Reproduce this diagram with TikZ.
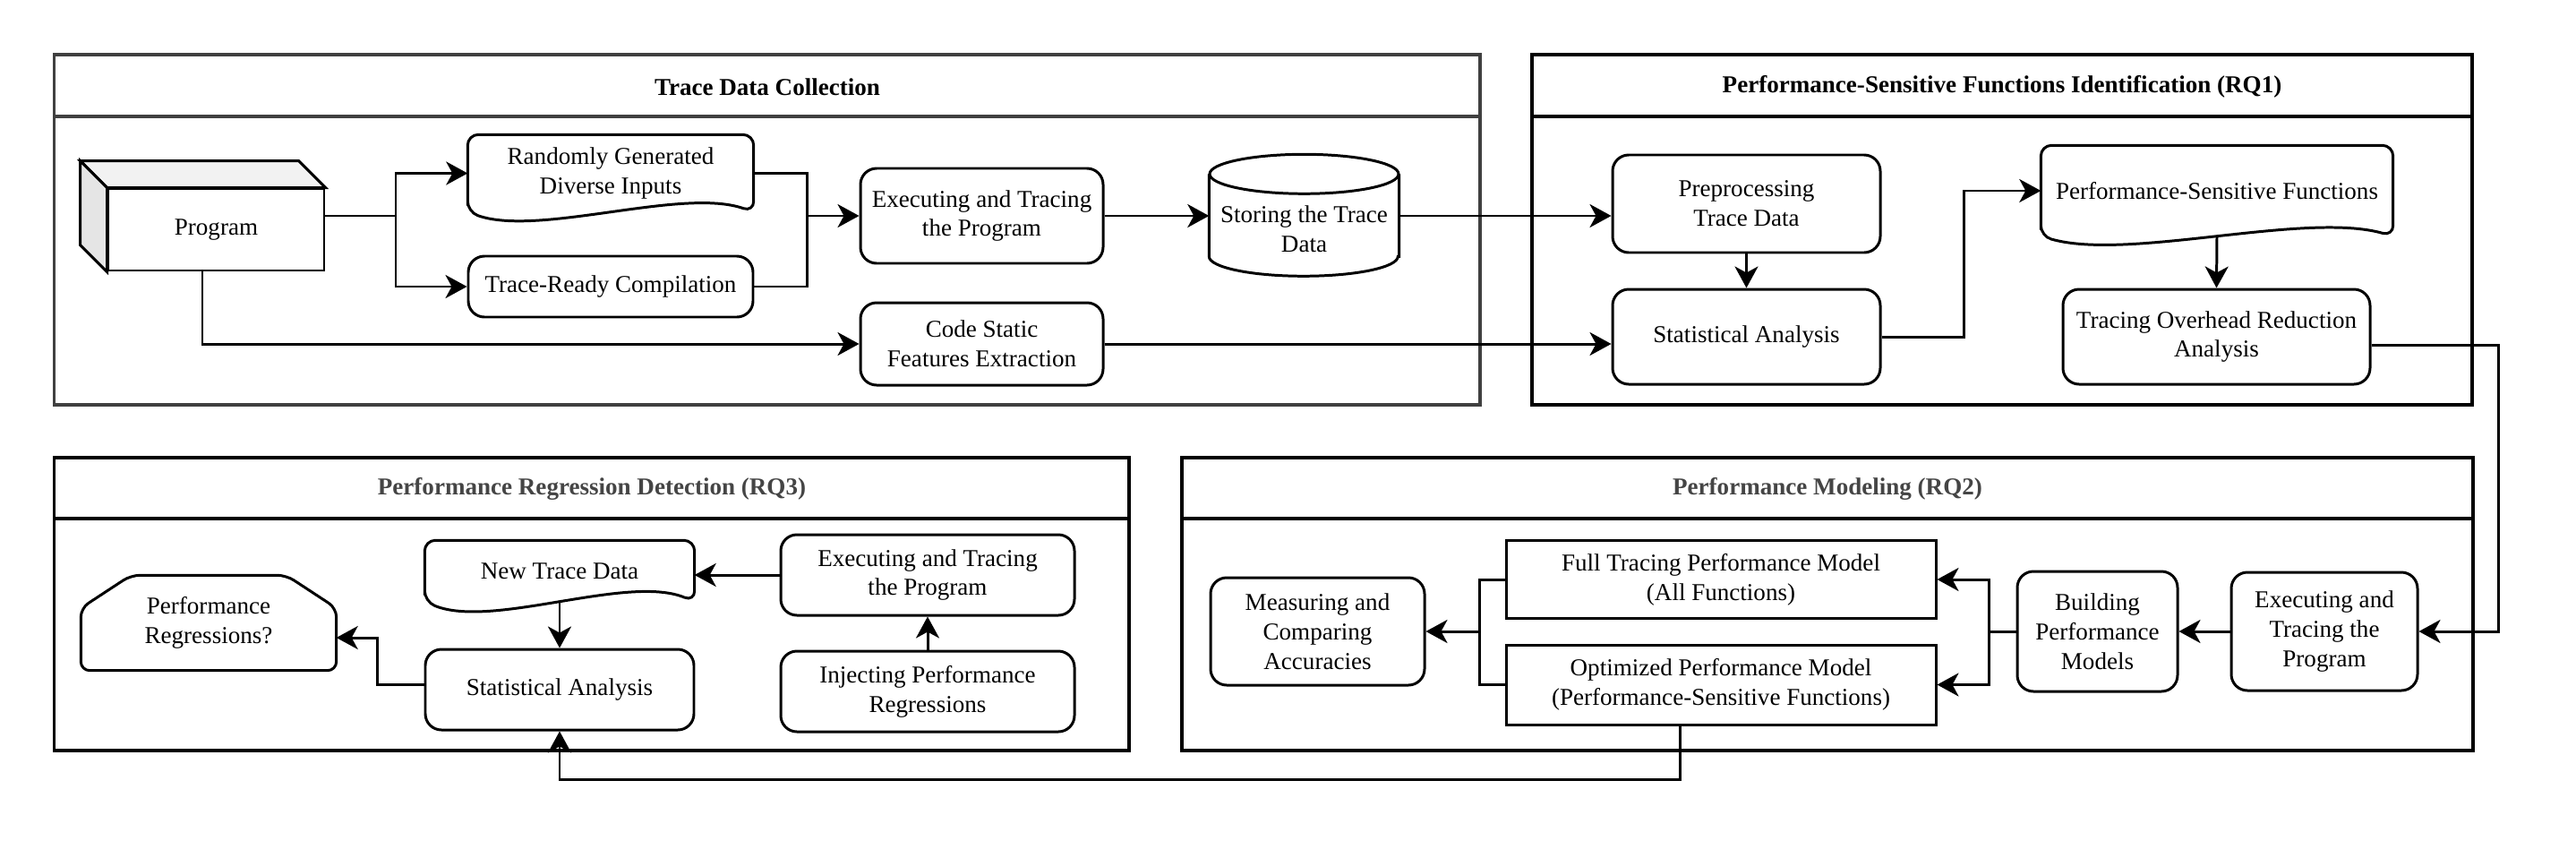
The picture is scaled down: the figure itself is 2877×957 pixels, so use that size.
\documentclass[tikz,border=0pt]{standalone}
\usepackage{fontspec}
\setmainfont{Liberation Serif}
\usetikzlibrary{arrows.meta,calc}

\definecolor{lanegray}{HTML}{404040}
\definecolor{titlegray}{HTML}{454545}

\tikzset{
  lane/.style={line width=0.9pt},
  lanetitle/.style={font=\fontsize{7.7}{9.35}\selectfont\bfseries},
  boxsize/.style 2 args={minimum width=#1, minimum height=#2},
  stepbox/.style={draw, line width=0.85pt, rounded corners=1.8mm, align=center, inner sep=0pt},
  plainbox/.style={draw, line width=0.85pt, align=center, inner sep=0pt},
  textonly/.style={align=center, inner sep=0pt},
  link/.style={line width=0.85pt},
  flow/.style={line width=0.85pt, -{Stealth[length=2.4mm,width=2.6mm,inset=0.7mm]}},
}

% document outline with a wavy bottom round a text node
\newcommand{\docoutline}[2]{%
  \draw[link, rounded corners=1.2mm] (#1.south west) -- (#1.north west) -- (#1.north east) -- (#1.south east)
    .. controls ($(#1.south east)!0.25!(#1.south west)+(0,-#2)$) and ($(#1.south east)!0.75!(#1.south west)+(0,#2)$) .. (#1.south west) -- cycle;}

\begin{document}
\begin{tikzpicture}[x=0.1mm, y=-0.1mm, every node/.style={font=\fontsize{7.7}{9.35}\selectfont}]
    \useasboundingbox (0,0) rectangle (2877,957);
    %% Draw the lanes
    \draw[lane, draw=lanegray] (60.6,61) rectangle (1653,452);
    \draw[lane, draw=lanegray] (60.6,130) -- (1653,130);
    \node[lanetitle] (tdc) at (857,97) {Trace Data Collection};
    \draw[lane] (1711,61) rectangle (2761,452);
    \draw[lane] (1711,130) -- (2761,130);
    \node[lanetitle] (rq1) at (2236,97) {Performance-Sensitive Functions Identification (RQ1)};
    \draw[lane] (60.6,511) rectangle (1261,838);
    \draw[lane] (60.6,579) -- (1261,579);
    \node[lanetitle, text=titlegray] (rq3) at (661,546) {Performance Regression Detection (RQ3)};
    \draw[lane] (1320,511) rectangle (2762,838);
    \draw[lane] (1320,579) -- (2762,579);
    \node[lanetitle, text=titlegray] (rq2) at (2041,546) {Performance Modeling (RQ2)};

    %% Draw the nodes (trace data collection)
    \node[plainbox, boxsize={24.1mm}{9.1mm}] (prog) at (241.5,256.5) {Program};
    \draw[link, fill=gray!10] (prog.north west) -- ++(-30,-30) -- ($(prog.north east)+(-30,-30)$) -- (prog.north east) -- cycle;
    \draw[link, fill=gray!20] (prog.north west) -- ++(-30,-30) -- ($(prog.south west)+(-30,-30)$) -- (prog.south west) -- cycle;
    \node[textonly, boxsize={31.8mm}{8.5mm}] (rand) at (682,193.5) {Randomly Generated\\Diverse Inputs};
    \docoutline{rand}{28}
    \node[stepbox, boxsize={31.8mm}{6.8mm}] (trc) at (682,320) {Trace-Ready Compilation};
    \node[stepbox, boxsize={27.1mm}{10.6mm}] (exec1) at (1096.5,241) {Executing and Tracing\\the Program};
    \node[stepbox, boxsize={27.1mm}{9.2mm}] (code) at (1096.5,384) {Code Static\\Features Extraction};
    \node[textonly, boxsize={21.1mm}{12.2mm}] (store) at (1456.5,256) {Storing the Trace\\Data};
    \draw[link] (store.north west) -- ++(0,92) arc[start angle=180, end angle=360, x radius=10.55mm, y radius=2.2mm] -- ($(store.north east)+(0,92)$) -- (store.north east);
    \draw[link] (store.north) ellipse [x radius=10.55mm, y radius=2.2mm];
    %% Draw the nodes (RQ1)
    \node[stepbox, boxsize={29.9mm}{10.9mm}] (pre) at (1950.5,227.5) {Preprocessing\\Trace Data};
    \node[stepbox, boxsize={29.9mm}{10.6mm}] (stat1) at (1950.5,376) {Statistical Analysis};
    \node[textonly, boxsize={39.2mm}{10mm}] (psf) at (2476,213) {Performance-Sensitive Functions};
    \docoutline{psf}{28}
    \node[stepbox, boxsize={34.3mm}{10.6mm}] (tor) at (2475.5,376) {Tracing Overhead Reduction\\Analysis};
    %% Draw the nodes (RQ3)
    \node[textonly, boxsize={28.4mm}{10.5mm}] (prq) at (233,695.5) {Performance\\Regressions?};
    \draw[link, rounded corners=1mm] (prq.south west) -- ($(prq.west)+(0,-16.5)$) -- ($(prq.north west)+(56,0)$)
      -- ($(prq.north east)+(-56,0)$) -- ($(prq.east)+(0,-16.5)$) -- (prq.south east) -- cycle;
    \node[textonly, boxsize={30mm}{6.7mm}] (newtd) at (625,637.5) {New Trace Data};
    \docoutline{newtd}{31}
    \node[stepbox, boxsize={30mm}{9mm}] (stat3) at (625,770) {Statistical Analysis};
    \node[stepbox, boxsize={32.8mm}{9mm}] (exec3) at (1036,642) {Executing and Tracing\\the Program};
    \node[stepbox, boxsize={32.8mm}{9mm}] (inj) at (1036,772) {Injecting Performance\\Regressions};
    %% Draw the nodes (RQ2)
    \node[stepbox, boxsize={23.9mm}{12mm}] (meas) at (1471.5,705) {Measuring and\\Comparing\\Accuracies};
    \node[plainbox, boxsize={48mm}{8.7mm}] (full) at (1922,647) {Full Tracing Performance Model\\(All Functions)};
    \node[plainbox, boxsize={48mm}{8.9mm}] (opt) at (1922,764.5) {Optimized Performance Model\\(Performance-Sensitive Functions)};
    \node[stepbox, boxsize={17.9mm}{13.4mm}] (build) at (2342.5,705) {Building\\Performance\\Models};
    \node[stepbox, boxsize={20.8mm}{13.2mm}] (exec2) at (2596,705) {Executing and\\Tracing the\\Program};

    %% Draw the edges
    \coordinate (fork1) at (442,241);
    \coordinate (join1) at (901,241);
    \coordinate (fork2) at (2221,705);
    \coordinate (join2) at (1652,705);
    \begin{scope}[every path/.style={link}]
      \draw (prog.east |- fork1) -- (fork1);
      \draw (rand.east) -| (join1);
      \draw (trc.east) -| (join1);
      \draw (build.west) -- (fork2);
      \draw (full.west) -| (join2);
      \draw (opt.west) -| (join2);
    \end{scope}
    \begin{scope}[every path/.style={flow}]
      \draw (fork1) |- (rand.west);
      \draw (fork1) |- (trc.west);
      \draw (join1) -- (exec1.west);
      \draw ([xshift=-1.55mm]prog.south) |- (code.west);
      \draw (exec1.east) -- (exec1.east -| store.west);
      \draw (exec1.east -| store.east) -- (exec1.east -| pre.west);
      \draw (code.east) -- (code.east -| stat1.west);
      \draw (pre) -- (stat1);
      \draw (stat1.east) -- ++(92,0) |- (psf.west);
      \draw (psf.south) -- (tor.north);
      \draw ([yshift=-0.9mm]tor.east) -- ++(142,0) |- (exec2.east);
      \draw (exec2) -- (build);
      \draw (fork2) |- (full.east);
      \draw (fork2) |- (opt.east);
      \draw (join2) -- (meas.east);
      \draw ([xshift=-4.6mm]opt.south) -- ++(0,60) -| (stat3.south);
      \draw (exec3) -- (exec3 -| newtd.east);
      \draw (newtd.south) -- (stat3.north);
      \draw ([yshift=0.6mm]stat3.west) -- ++(-52,0) |- ([yshift=-1.65mm]prq.east);
      \draw (inj) -- (exec3);
    \end{scope}
\end{tikzpicture}
\end{document}
